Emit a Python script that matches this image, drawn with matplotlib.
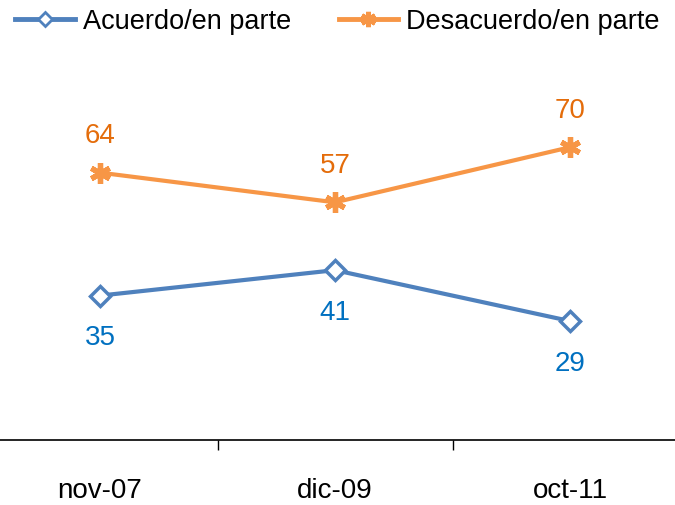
import matplotlib
matplotlib.use("Agg")
import matplotlib.pyplot as plt
from matplotlib.lines import Line2D

plt.rcParams['font.family'] = ['Liberation Sans', 'DejaVu Sans']

fechas = ["nov-07", "dic-09", "oct-11"]
acuerdo = [35, 41, 29]
desacuerdo = [64, 57, 70]

azul = "#4F81BD"
naranja = "#F79646"
azul_txt = "#0070C0"
naranja_txt = "#E46C0A"

fig = plt.figure(figsize=(6.75, 5.06), dpi=100)
ax = fig.add_axes([-17.5 / 675, 65 / 506, 705 / 675, 417 / 506])

x = list(range(len(fechas)))
ax.plot(x, acuerdo, color=azul, lw=3, marker="D", ms=10.5, mfc="white",
        mec=azul, mew=2.5, zorder=3)
ax.plot(x, desacuerdo, color=naranja, lw=3, marker=(6, 2, 0), ms=15,
        mec=naranja, mew=3.8, zorder=3)

for xi, v in zip(x, acuerdo):
    ax.annotate(str(v), (xi, v), xytext=(0, -30), textcoords="offset points",
                ha="center", va="center", fontsize=20, color=azul_txt)
for xi, v in zip(x, desacuerdo):
    ax.annotate(str(v), (xi, v), xytext=(0, 27), textcoords="offset points",
                ha="center", va="center", fontsize=20, color=naranja_txt)

ax.set_xlim(-0.5, 2.5)
ax.set_ylim(0.94, 99.3)
ax.set_yticks([])
ax.set_xticks([0.5, 1.5])
ax.set_xticklabels([])
ax.tick_params(axis="x", length=7, width=1, color="black")
ax.set_xticks(x, minor=True)
ax.set_xticklabels(fechas, minor=True, fontsize=20)
ax.tick_params(axis="x", which="minor", length=0, pad=27)
for s in ["top", "right", "left"]:
    ax.spines[s].set_visible(False)
ax.spines["bottom"].set_linewidth(1.2)

handles = [
    Line2D([], [], color=azul, lw=3.5, marker="D", ms=7, mfc="white", mec=azul, mew=2),
    Line2D([], [], color=naranja, lw=3.5, marker=(6, 2, 0), ms=11, mec=naranja, mew=3.5),
]
fig.legend(handles, ["Acuerdo/en parte", "Desacuerdo/en parte"], loc="center",
           bbox_to_anchor=(0.5, 1 - 22 / 506), ncol=2, frameon=False, fontsize=19.5,
           handlelength=2.2, handletextpad=0.3, columnspacing=1.75,
           borderaxespad=0, borderpad=0)

fig.savefig("out.png", dpi=100)
